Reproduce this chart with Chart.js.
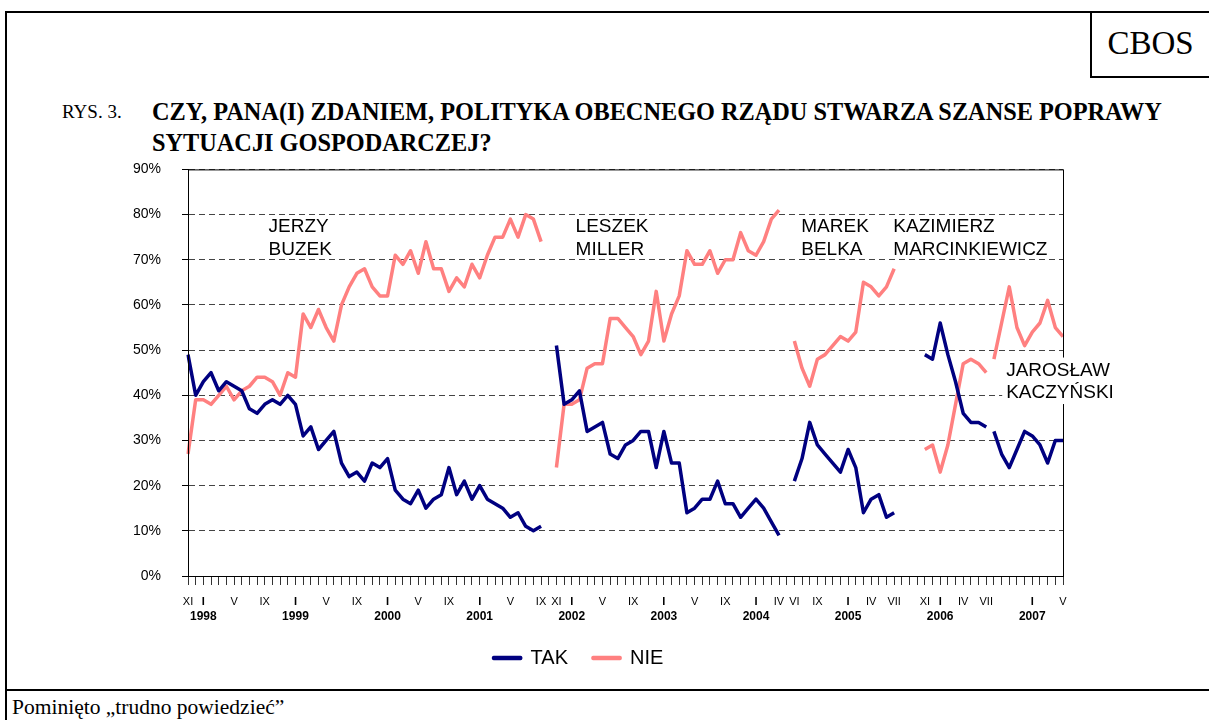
<!DOCTYPE html>
<html lang="pl">
<head>
<meta charset="utf-8">
<title>CBOS - Rys. 3</title>
<script src="https://cdn.jsdelivr.net/npm/chart.js@4.4.1/dist/chart.umd.min.js"></script>
<style>
  html, body { margin: 0; padding: 0; background: #fff; }
  body { width: 1209px; height: 720px; position: relative; overflow: hidden;
         font-family: "Liberation Serif", "Times New Roman", serif; color: #000; }
  .frame { position: absolute; left: 5px; top: 11px; width: 1204px; height: 709px;
           border-top: 2px solid #000; border-left: 2px solid #000; box-sizing: border-box; }
  .sep { position: absolute; left: 5px; top: 689px; width: 1204px; border-top: 2px solid #000; }
  .cbos { position: absolute; left: 1090px; top: 11px; width: 119px; height: 67px; box-sizing: border-box;
          border-left: 2px solid #000; border-bottom: 2px solid #000;
          font-size: 33px; line-height: 64px; text-align: center; }
  .rys { position: absolute; left: 62px; top: 96px; font-size: 19px; line-height: 31px; }
  .title { position: absolute; left: 152px; top: 96px; font-size: 24.3px; line-height: 31px; font-weight: bold; white-space: nowrap; }
  .note { position: absolute; left: 12px; top: 695px; font-size: 21.5px; line-height: 24px; }
  #wrap { position: absolute; left: 0; top: 140px; width: 1209px; height: 538px; }
</style>
</head>
<body>
<div class="frame"></div>
<div class="sep"></div>
<div class="cbos">CBOS</div>
<div class="rys">RYS. 3.</div>
<div class="title">CZY, PANA(I) ZDANIEM, POLITYKA OBECNEGO RZĄDU STWARZA SZANSE POPRAWY<br>SYTUACJI GOSPODARCZEJ?</div>
<div class="note">Pominięto „trudno powiedzieć”</div>
<div id="wrap"><canvas id="chart"></canvas></div>

<script>
// Oś: kolejne miesiące od XI 1997 do V 2007
const startYear = 1997;
const startMonth = 11;
const monthCount = 115;
const categories = [];
for (let i = 0; i < monthCount; i++) {
    const m = (startMonth - 1 + i) % 12 + 1;
    const y = startYear + Math.floor((startMonth - 1 + i) / 12);
    categories.push(y + '-' + String(m).padStart(2, '0'));
}

// Odpowiedzi "tak" (%), null = brak pomiaru
const tak = [
    49, 40, 43, 45, 41, 43, 42, 41, 37, 36, 38, 39, 38, 40, 38, 31, 33, 28, 30, 32, 25, 22, 23, 21, 25, 24,
    26, 19, 17, 16, 19, 15, 17, 18, 24, 18, 21, 17, 20, 17, 16, 15, 13, 14, 11, 10, 11,
    null,
    51, 38, 39, 41, 32, 33, 34, 27, 26, 29, 30, 32, 32, 24, 32, 25, 25, 14, 15, 17, 17, 21, 16, 16, 13, 15, 17, 15, 12, 9,
    null,
    21, 26, 34, 29, 27, 25, 23, 28, 24, 14, 17, 18, 13, 14,
    null, null, null,
    49, 48, 56, 49, 43, 36, 34, 34, 33,
    32, 27, 24, 28, 32, 31, 29, 25, 30, 30
];

// Odpowiedzi "nie" (%)
const nie = [
    27, 39, 39, 38, 40, 42, 39, 41, 42, 44, 44, 43, 40, 45, 44, 58, 55, 59, 55, 52, 60, 64, 67, 68, 64, 62,
    62, 71, 69, 72, 67, 74, 68, 68, 63, 66, 64, 69, 66, 71, 75, 75, 79, 75, 80, 79, 74,
    null,
    24, 38, 38, 39, 46, 47, 47, 57, 57, 55, 53, 49, 52, 63, 52, 58, 62, 72, 69, 69, 72, 67, 70, 70, 76, 72, 71, 74, 79, 81,
    null,
    52, 46, 42, 48, 49, 51, 53, 52, 54, 65, 64, 62, 64, 68,
    null, null, null,
    28, 29, 23, 29, 38, 47, 48, 47, 45,
    48, 56, 64, 55, 51, 54, 56, 61, 55, 53
];

// Indeksy pierwszego pomiaru kolejnych rządów
const cabinetStart = [0, 48, 79, 96, 105];

// Podpisy miesięcy pod osią
const monthTicks = {
    0: 'XI', 6: 'V', 10: 'IX', 18: 'V', 22: 'IX', 30: 'V', 34: 'IX', 42: 'V', 46: 'IX',
    48: 'XI', 54: 'V', 58: 'IX', 66: 'V', 70: 'IX', 77: 'IV', 79: 'VI', 82: 'IX',
    89: 'IV', 92: 'VII', 96: 'XI', 101: 'IV', 104: 'VII', 114: 'V'
};
const yearTicks = {
    2: '1998', 14: '1999', 26: '2000', 38: '2001', 50: '2002',
    62: '2003', 74: '2004', 86: '2005', 98: '2006', 110: '2007'
};

const yTicks = [0, 10, 20, 30, 40, 50, 60, 70, 80, 90];

// Nazwiska premierów (pozycja w jednostkach osi)
const primeMinisters = [
    { lines: ['JERZY', 'BUZEK'], at: 10.5, val: 77.5 },
    { lines: ['LESZEK', 'MILLER'], at: 50.5, val: 77.5 },
    { lines: ['MAREK', 'BELKA'], at: 79.9, val: 77.5 },
    { lines: ['KAZIMIERZ', 'MARCINKIEWICZ'], at: 91.9, val: 77.5 },
    { lines: ['JAROSŁAW', 'KACZYŃSKI'], at: 106.6, val: 45.7, boxed: true }
];

const NAVY = '#000080';
const PINK = '#FF8080';
const SANS = '"Liberation Sans", Arial, sans-serif';

function splitByCabinet(values, label, color) {
    return cabinetStart.map((start, k) => {
        const end = k + 1 < cabinetStart.length ? cabinetStart[k + 1] : values.length;
        return {
            label: label,
            data: values.map((v, i) => (i >= start && i < end) ? v : null),
            borderColor: color,
            backgroundColor: color,
            borderWidth: 3.5,
            borderJoinStyle: 'round',
            pointRadius: 0,
            pointHoverRadius: 0,
            tension: 0,
            fill: false
        };
    });
}

const frameAndNames = {
    id: 'frameAndNames',
    afterDraw(chart) {
        const { ctx, chartArea: a, scales } = chart;
        ctx.save();
        ctx.strokeStyle = '#000';
        ctx.lineWidth = 1;
        ctx.strokeRect(a.left + 0.5, a.top + 0.5, a.right - a.left, a.bottom - a.top);

        ctx.font = '19px ' + SANS;
        ctx.textBaseline = 'middle';
        ctx.textAlign = 'left';
        primeMinisters.forEach(pm => {
            const x = scales.x.getPixelForValue(pm.at);
            const y = scales.y.getPixelForValue(pm.val);
            if (pm.boxed) {
                const w = Math.max(...pm.lines.map(t => ctx.measureText(t).width));
                ctx.fillStyle = '#fff';
                ctx.fillRect(x - 4, y - 12, w + 6, 22.5 * (pm.lines.length - 1) + 24);
            }
            ctx.fillStyle = '#000';
            pm.lines.forEach((t, k) => ctx.fillText(t, x, y + 1 + k * 22.5));
        });
        ctx.restore();
    }
};

const ctx = document.getElementById('chart').getContext('2d');
new Chart(ctx, {
    type: 'line',
    data: {
        labels: categories,
        datasets: [...splitByCabinet(tak, 'TAK', NAVY), ...splitByCabinet(nie, 'NIE', PINK)]
    },
    options: {
        responsive: true,
        maintainAspectRatio: false,
        animation: false,
        layout: { padding: { left: 94, right: 146, top: 26, bottom: 0 } },
        plugins: {
            tooltip: { enabled: false },
            legend: {
                position: 'bottom',
                labels: {
                    boxWidth: 27,
                    boxHeight: 1,
                    padding: 25,
                    color: '#000',
                    font: { family: SANS, size: 20 },
                    filter: (item, data) => data.datasets.findIndex(d => d.label === item.text) === item.datasetIndex
                }
            }
        },
        scales: {
            x: {
                type: 'category',
                position: 'bottom',
                weight: 0,
                afterFit: s => { s.height = 30; },
                grid: { drawOnChartArea: false, tickLength: 9, tickColor: '#333', tickWidth: 1 },
                border: { color: '#000', width: 1 },
                ticks: {
                    autoSkip: false,
                    maxRotation: 0,
                    minRotation: 0,
                    padding: 10,
                    color: '#000',
                    font: c => yearTicks[c.index]
                        ? { family: SANS, size: 11, weight: 'bold' }
                        : { family: SANS, size: 11 },
                    callback: (v, i) => monthTicks[i] || (yearTicks[i] ? 'I' : '')
                }
            },
            x2: {
                type: 'category',
                axis: 'x',
                position: 'bottom',
                weight: 1,
                afterFit: s => { s.height = 17; },
                grid: { display: false, drawTicks: false, tickLength: 0 },
                border: { display: false },
                ticks: {
                    autoSkip: false,
                    maxRotation: 0,
                    minRotation: 0,
                    padding: 3,
                    color: '#000',
                    font: { family: SANS, size: 12, weight: 'bold' },
                    callback: (v, i) => yearTicks[i] || ''
                }
            },
            y: {
                min: 0,
                max: 90,
                afterFit: s => { s.width = 94; },
                afterBuildTicks: s => { s.ticks = yTicks.map(v => ({ value: v })); },
                grid: { color: '#444', lineWidth: 1, tickLength: 6, tickColor: '#000', tickBorderDash: [] },
                border: { color: '#000', width: 1, dash: [6, 4] },
                ticks: {
                    padding: 21,
                    color: '#000',
                    font: { family: SANS, size: 14 },
                    callback: v => v + '%'
                }
            }
        }
    },
    plugins: [frameAndNames]
});
</script>
</body>
</html>
